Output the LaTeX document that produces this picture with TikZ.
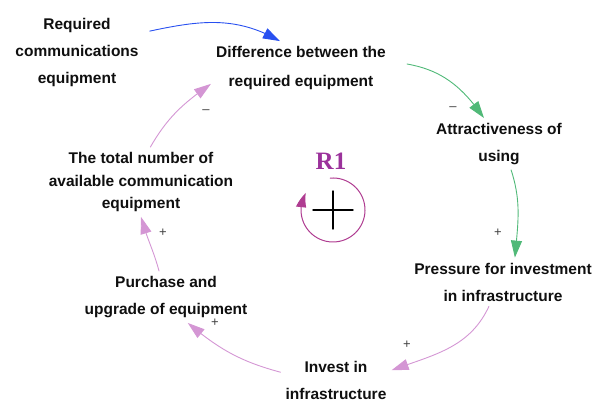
\documentclass[tikz,border=0pt]{standalone}
\usepackage{fontspec}
\setmainfont{Liberation Sans}
\newfontfamily\loopfont{Liberation Serif}
\usetikzlibrary{arrows.meta, bending}
\definecolor{txt}{RGB}{15,15,15}
\definecolor{linkblue}{RGB}{40,80,240}
\definecolor{linkgreen}{RGB}{80,185,120}
\definecolor{linkpink}{RGB}{212,150,212}
\definecolor{loopc}{RGB}{175,60,145}
\definecolor{rtext}{RGB}{155,50,155}
\tikzset{
  var/.style={align=center, inner sep=5pt, text=txt, font=\fontsize{15.5}{27}\selectfont\bfseries},
  link/.style={line width=0.9pt, -{Triangle[length=17pt,width=11pt]}},
  pol/.style={inner sep=0pt, text=black!75, font=\fontsize{13}{13}\selectfont},
}
\begin{document}
\begin{tikzpicture}[x=1pt, y=1pt, line join=round, line cap=round]
					\useasboundingbox (0,0) rectangle (597,407);
					%%%%%%%%%%%%%%%%%%%%%%%%%%%%%%%%%
					\coordinate (loop) at (333,197);
					%%%%%%%%%%%%%%%%%%%%%%%%%%%%%%%%%
					\node[var] (req) at (77,355) {Required\\communications\\equipment};
					\node[var] (diff) at (301,339) {Difference between the\\[2pt]required equipment};
					\node[var] (attr) at (499,263) {Attractiveness of\\using};
					\node[var] (press) at (503,125) {Pressure for investment\\in infrastructure};
					\node[var] (invest) at (336,27) {Invest in\\infrastructure};
					\node[var] (purch) at (166,110) {Purchase and\\upgrade of equipment};
					\node[var, font=\fontsize{15.5}{22.5}\selectfont\bfseries] (total) at (141,225) {The total number of\\available communication\\equipment};
					%%%%%%%%%%%%%%%%%%%%%%%%%%%%%%%%%
					\draw[link, linkblue] ([xshift=6pt,yshift=3pt]req.15) to[out=12, in=150] (diff.128);
					\begin{scope}[linkgreen]
						\draw[link] ([xshift=16pt,yshift=4pt]diff.east) to[out=-10, in=125] (attr.120);
						\draw[link] (attr.-65) to[out=-72, in=85] (press.64);
					\end{scope}
					\begin{scope}[linkpink]
						\draw[link] (press.-120) to[out=-115, in=20] (invest.10);
						\draw[link] (invest.172) to[out=165, in=-40] (purch.-50);
						\draw[link] (purch.105) to[out=105, in=-75] (total.-90);
						\draw[link] (total.75) to[out=60, in=-145] (diff.190);
					\end{scope}
					%%%%%%%%%%%%%%%%%%%%%%%%%%%%%%%%%
					\node[pol] (m1) at (206,295) {--};
					\node[pol] (m2) at (453,298) {--};
					\node[pol] (p1) at (498,174) {+};
					\node[pol] (p2) at (407,62) {+};
					\node[pol] (p3) at (215,84) {+};
					\node[pol] (p4) at (163,174) {+};
					%%%%%%%%%%%%%%%%%%%%%%%%%%%%%%%%%
					\node[text=rtext, font=\fontsize{25}{25}\selectfont\loopfont\bfseries] (rone) at (331,246) {R1};
					\draw[loopc, line width=1pt, -{Triangle[length=15pt,width=10pt,bend]}] ([shift={(95:32)}]loop) arc[start angle=95, end angle=-212, radius=32];
					\draw[line width=1.4pt] ([xshift=-20pt]loop) -- ([xshift=20pt]loop);
					\draw[line width=1.4pt] ([yshift=-19pt]loop) -- ([yshift=19pt]loop);
			\end{tikzpicture}
\end{document}
